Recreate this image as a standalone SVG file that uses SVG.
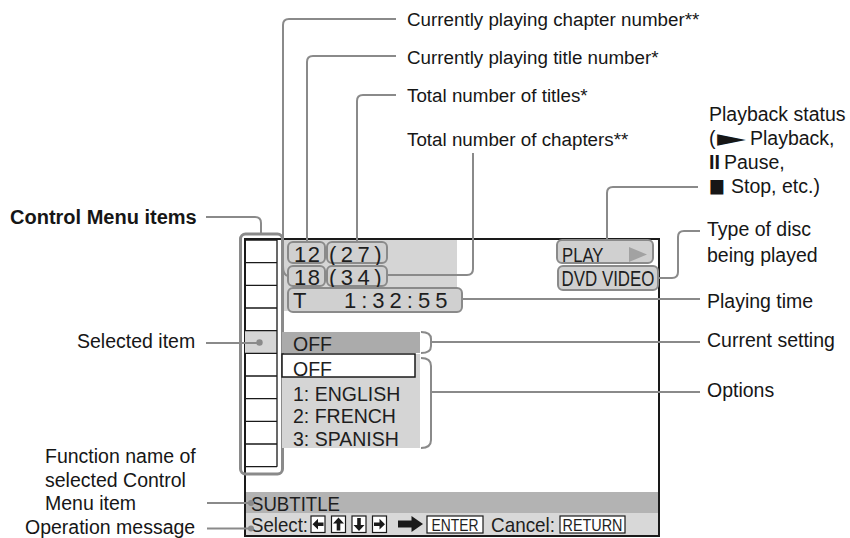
<svg xmlns="http://www.w3.org/2000/svg" width="850" height="538" viewBox="0 0 850 538">
<style>
.lbl{font-family:"Liberation Sans",Arial,sans-serif;font-size:19.5px;fill:#161616}
.top{font-size:18.8px}
.b{font-weight:bold;font-size:20px}
.scr{font-family:"Liberation Sans",Arial,sans-serif;fill:#1e1e1e}
.dig{font-size:22px}
.conn{fill:none;stroke:#8a8a8a;stroke-width:2}
.pill{fill:#d0d0d0;stroke:#8a8a8a;stroke-width:2}
.cell{fill:none;stroke:#1a1a1a;stroke-width:1.3}
.key{fill:#fff;stroke:#1a1a1a;stroke-width:1.2}
.ink{fill:#1a1a1a}
.dot{fill:#8a8a8a}
.sym{font-family:"DejaVu Sans",sans-serif;fill:#161616}
</style>
<rect width="850" height="538" fill="#fff"/>
<g id="screen">
 <rect x="245" y="239" width="414" height="297" fill="#fff"/>
 <rect x="282" y="240" width="175" height="71" fill="#d5d5d5"/>
 <rect x="245" y="492" width="414" height="21" fill="#b3b3b3"/>
 <rect x="245" y="513" width="414" height="23" fill="#d8d8d8"/>
 <rect x="245" y="239" width="414" height="297" fill="none" stroke="#1a1a1a" stroke-width="2"/>
</g>
<g id="menu-column">
 <rect x="245" y="331" width="32" height="23" fill="#d5d5d5"/>
 <path class="cell" d="M245,240H277M245,262.7H277M245,285.3H277M245,308H277M245,330.7H277M245,353.3H277M245,376H277M245,398.7H277M245,421.3H277M245,444H277M245,466.7H277M277,240V466.7"/>
 <circle class="dot" cx="259.5" cy="342.5" r="3.2"/>
 <rect x="240.5" y="234" width="42" height="240" rx="5" fill="none" stroke="#8a8a8a" stroke-width="3"/>
</g>
<g id="current-title">
 <rect class="pill" x="288" y="242" width="37" height="21" rx="5"/>
 <text class="scr dig" x="294" y="261.5" letter-spacing="1.5">12</text>
</g>
<g id="total-titles">
 <rect class="pill" x="327" y="242" width="60" height="21" rx="5"/>
 <text class="scr dig" x="329" y="261.5" letter-spacing="4.5">(27)</text>
</g>
<g id="current-chapter">
 <rect class="pill" x="288" y="266" width="37" height="20" rx="5"/>
 <text class="scr dig" x="294" y="284.5" letter-spacing="1.5">18</text>
</g>
<g id="total-chapters">
 <rect class="pill" x="327" y="266" width="60" height="20" rx="5"/>
 <text class="scr dig" x="329" y="284.5" letter-spacing="4.5">(34)</text>
</g>
<g id="playing-time">
 <rect class="pill" x="288" y="288" width="174" height="24" rx="5"/>
 <text class="scr" x="293" y="307.5" font-size="22">T</text>
 <text class="scr" x="344" y="307.5" font-size="22" letter-spacing="5">1:32:55</text>
</g>
<g id="play-status">
 <rect class="pill" x="557" y="240" width="96" height="23" rx="5"/>
 <text class="scr" x="562" y="261.5" font-size="21" textLength="41.5" lengthAdjust="spacingAndGlyphs">PLAY</text>
 <polygon points="629,247 647,254.5 629,262" fill="#a2a2a2"/>
</g>
<g id="disc-type">
 <rect class="pill" x="558" y="266" width="100" height="24" rx="5"/>
 <text class="scr" x="561.5" y="285.5" font-size="22" textLength="93" lengthAdjust="spacingAndGlyphs">DVD VIDEO</text>
</g>
<g id="settings">
 <rect x="282" y="332" width="138" height="21" fill="#ababab"/>
 <rect x="282" y="354" width="138" height="94" fill="#d5d5d5"/>
 <rect x="282" y="354" width="133" height="23" fill="#fff" stroke="#1a1a1a" stroke-width="1.5"/>
 <text class="scr" x="293" y="351" font-size="19.5">OFF</text>
 <text class="scr" x="293" y="376" font-size="19.5">OFF</text>
 <text class="scr" x="293" y="400.5" font-size="19.5">1: ENGLISH</text>
 <text class="scr" x="293" y="423" font-size="19.5">2: FRENCH</text>
 <text class="scr" x="293" y="446" font-size="19.5">3: SPANISH</text>
</g>
<g id="function-bar">
 <text class="scr" x="251" y="510.5" font-size="21" textLength="89" lengthAdjust="spacingAndGlyphs">SUBTITLE</text>
</g>
<g id="operation-bar">
 <text class="scr" x="251" y="532" font-size="21" textLength="57" lengthAdjust="spacingAndGlyphs">Select:</text>
 <rect class="key" x="311" y="516" width="14" height="16.5"/>
 <path class="ink" d="M312.5,524.2L318,518.8V522.4H323.5V526H318V529.6Z"/>
 <rect class="key" x="331.5" y="516" width="14" height="16.5"/>
 <path class="ink" d="M338.5,517.5L333,523.5H336.7V530.5H340.3V523.5H344Z"/>
 <rect class="key" x="352" y="516" width="14" height="16.5"/>
 <path class="ink" d="M359,531L353.5,525H357.2V518H360.8V525H364.5Z"/>
 <rect class="key" x="372.5" y="516" width="14" height="16.5"/>
 <path class="ink" d="M385,524.2L379.5,518.8V522.4H374V526H379.5V529.6Z"/>
 <path class="ink" d="M398,520.5H411.5V516L423,524L411.5,532V527.5H398Z"/>
 <rect class="key" x="427" y="516" width="56" height="17"/>
 <text class="scr" x="431.5" y="530.5" font-size="17" textLength="47" lengthAdjust="spacingAndGlyphs">ENTER</text>
 <text class="scr" x="491" y="532" font-size="21" textLength="64" lengthAdjust="spacingAndGlyphs">Cancel:</text>
 <rect class="key" x="560" y="516" width="65" height="17"/>
 <text class="scr" x="562.5" y="530.5" font-size="17" textLength="60" lengthAdjust="spacingAndGlyphs">RETURN</text>
</g>
<g id="connectors">
 <path class="conn" d="M396,19H289Q283,19 283,25V266Q283,275 288,276"/>
 <path class="conn" d="M396,56H313Q307,56 307,62V242"/>
 <path class="conn" d="M396,95H363Q357,95 357,101V242"/>
 <path class="conn" d="M473,153V269Q473,275 467,275H387"/>
 <path class="conn" d="M698,187H613Q607,187 607,193V240"/>
 <path class="conn" d="M700,231H684Q678,231 678,237V272Q678,278 672,278H658"/>
 <path class="conn" d="M462,299H700"/>
 <path class="conn" d="M421,332Q431,332 431,339V346Q431,353 421,353M431,342H700"/>
 <path class="conn" d="M421,358Q431,358 431,366V440Q431,448 421,448M431,392H700"/>
 <path class="conn" d="M206,217H255Q261,217 261,223V234"/>
 <path class="conn" d="M206,343H259"/>
 <path class="conn" d="M207,503H251"/>
 <path class="conn" d="M207,528.5H251"/>
 <circle class="dot" cx="251" cy="503" r="3"/>
 <circle class="dot" cx="251" cy="528.5" r="3"/>
</g>
<g id="label-chapter-number"><text class="lbl top" x="407" y="26">Currently playing chapter number**</text></g>
<g id="label-title-number"><text class="lbl top" x="407" y="64">Currently playing title number*</text></g>
<g id="label-total-titles"><text class="lbl top" x="407" y="102">Total number of titles*</text></g>
<g id="label-total-chapters"><text class="lbl top" x="407" y="146">Total number of chapters**</text></g>
<g id="label-playback-status">
 <text class="lbl" x="709" y="121">Playback status</text>
 <text class="lbl" x="709" y="145">(</text>
 <text class="sym" x="717" y="144" font-size="15" textLength="29" lengthAdjust="spacingAndGlyphs">▶</text>
 <text class="lbl" x="750" y="145">Playback,</text>
 <text class="lbl b" x="709" y="169" textLength="11" lengthAdjust="spacingAndGlyphs">II</text>
 <text class="lbl" x="724" y="169">Pause,</text>
 <text class="sym" x="709" y="192" font-size="19" textLength="16" lengthAdjust="spacingAndGlyphs">■</text>
 <text class="lbl" x="731" y="193">Stop, etc.)</text>
</g>
<g id="label-disc-type">
 <text class="lbl" x="707" y="236">Type of disc</text>
 <text class="lbl" x="707" y="262">being played</text>
</g>
<g id="label-playing-time"><text class="lbl" x="707" y="308">Playing time</text></g>
<g id="label-current-setting"><text class="lbl" x="707" y="347">Current setting</text></g>
<g id="label-options"><text class="lbl" x="707" y="397">Options</text></g>
<g id="label-control-menu"><text class="lbl b" x="10" y="224">Control Menu items</text></g>
<g id="label-selected-item"><text class="lbl" x="77" y="348">Selected item</text></g>
<g id="label-function-name">
 <text class="lbl" x="45" y="463">Function name of</text>
 <text class="lbl" x="45" y="487">selected Control</text>
 <text class="lbl" x="45" y="510">Menu item</text>
</g>
<g id="label-operation"><text class="lbl" x="25" y="534">Operation message</text></g>
</svg>
